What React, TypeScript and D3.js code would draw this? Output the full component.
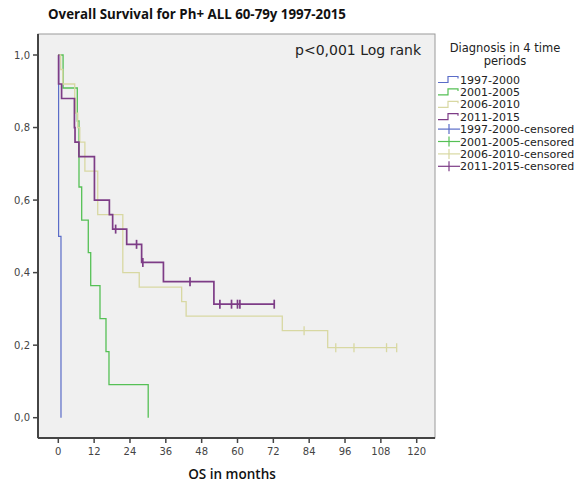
import React from "react";
import * as d3 from "d3";

const groups = ["1997-2000", "2001-2005", "2006-2010", "2011-2015"];
const colors = ["#5a6cc8", "#55c055", "#d8d8a2", "#7d3c86"];
const widths = [1.2, 1.3, 1.3, 1.7];

// step curves: [month, survival]
const blueSteps: [number, number][] = [[0, 1], [0.1, 0.5], [0.9, 0]];
const greenSteps: [number, number][] = [
  [0, 1], [1.6, 0.909], [6.36, 0.818], [6.93, 0.636], [7.83, 0.545],
  [10.04, 0.455], [10.85, 0.364], [13.96, 0.273], [15.97, 0.182],
  [16.97, 0.091], [30.1, 0],
];
const beigeSteps: [number, number][] = [
  [0, 1], [0.8, 0.96], [1.5, 0.92], [5.5, 0.88], [5.8, 0.84], [6.5, 0.8],
  [7.2, 0.76], [8.9, 0.68], [13.2, 0.56], [21.6, 0.4], [27.1, 0.36],
  [41.3, 0.32], [42.8, 0.28], [75, 0.24], [90.2, 0.193], [113.3, 0.193],
];
const purpleSteps: [number, number][] = [
  [0, 1], [0.1, 0.92], [1.1, 0.88], [5.4, 0.8], [5.6, 0.76], [6.9, 0.72],
  [12.1, 0.6], [17.1, 0.56], [18.2, 0.52], [22.9, 0.478], [27.9, 0.428],
  [35.2, 0.375], [52.1, 0.313], [72.3, 0.313],
];
const beigeCensored = [82.3, 92.9, 99, 109.9, 113.3];
const purpleCensored = [19.2, 26.2, 28.3, 44.1, 54.1, 58.0, 60.0, 60.8, 72.3];

const xTicks = [0, 12, 24, 36, 48, 60, 72, 84, 96, 108, 120];
const yTicks = [0, 0.2, 0.4, 0.6, 0.8, 1.0];

const allSteps = [blueSteps, greenSteps, beigeSteps, purpleSteps];
const allCensored: number[][] = [[], [], beigeCensored, purpleCensored];

function survAt(steps: [number, number][], t: number) {
  let s = 1;
  for (const [tt, v] of steps) if (tt <= t) s = v;
  return s;
}

export default function App() {
  const x = d3.scaleLinear().domain([0, 120]).range([58.3, 416.7]);
  const y = d3.scaleLinear().domain([0, 1]).range([417.7, 55]);
  const left = 38, right = 435, top = 34, bottom = 438;
  const line = d3
    .line<[number, number]>()
    .x((d) => x(d[0]))
    .y((d) => y(d[1]))
    .curve(d3.curveStepAfter);
  const font = "'DejaVu Sans', sans-serif";
  const legX = 438;
  const legY0 = 79.5;
  const legDy = 12.4;
  return (
    <svg width={579} height={483} style={{ position: "absolute", left: 0, top: 0, background: "#fff" }}>
      <text x={48} y={19} fontFamily="'Open Sans', sans-serif" fontWeight={700} fontSize={13.3} fill="#111">
        Overall Survival for Ph+ ALL 60-79y 1997-2015
      </text>
      <rect x={left} y={top} width={right - left} height={bottom - top} fill="#f0f0f0" stroke="#9a9a9a" strokeWidth={1} />
      <line x1={left} x2={left} y1={top} y2={bottom} stroke="#444" strokeWidth={2} />
      <line x1={left} x2={right} y1={bottom} y2={bottom} stroke="#444" strokeWidth={2} />
      {yTicks.map((v) => (
        <g key={v}>
          <line x1={33} x2={left} y1={y(v)} y2={y(v)} stroke="#444" strokeWidth={1.5} />
          <text x={30} y={y(v) + 3.5} textAnchor="end" fontFamily={font} fontSize={10} fill="#444">
            {v.toFixed(1).replace(".", ",")}
          </text>
        </g>
      ))}
      {xTicks.map((v) => (
        <g key={v}>
          <line x1={x(v)} x2={x(v)} y1={bottom} y2={bottom + 5} stroke="#444" strokeWidth={1.5} />
          <text x={x(v)} y={455} textAnchor="middle" fontFamily={font} fontSize={10} fill="#444">
            {v}
          </text>
        </g>
      ))}
      <text x={232} y={479} textAnchor="middle" fontFamily="'Open Sans', sans-serif" fontWeight={600} fontSize={13.5} fill="#111">
        OS in months
      </text>
      <text x={421} y={55} textAnchor="end" fontFamily={font} fontSize={14} fill="#222">
        p&lt;0,001 Log rank
      </text>
      {allSteps.map((s, i) => (
        <path key={i} d={line(s) || ""} fill="none" stroke={colors[i]} strokeWidth={widths[i]} />
      ))}
      {allCensored.map((cs, i) =>
        cs.map((t, j) => (
          <line
            key={i + "-" + j}
            x1={x(t)}
            x2={x(t)}
            y1={y(survAt(allSteps[i], t)) - 4.5}
            y2={y(survAt(allSteps[i], t)) + 4.5}
            stroke={colors[i]}
            strokeWidth={widths[i]}
          />
        ))
      )}
      <text x={505} y={52} textAnchor="middle" fontFamily={font} fontSize={11.5} fill="#222">
        Diagnosis in 4 time
      </text>
      <text x={505} y={65} textAnchor="middle" fontFamily={font} fontSize={11.5} fill="#222">
        periods
      </text>
      {groups.map((g, i) => {
        const yy = legY0 + i * legDy;
        return (
          <g key={g}>
            <path
              d={`M${legX},${yy + 3} H${legX + 10} V${yy - 3} H${legX + 20} V${yy - 1}`}
              fill="none"
              stroke={colors[i]}
              strokeWidth={1.2}
            />
            <text x={legX + 22} y={yy + 4} fontFamily={font} fontSize={11} fill="#222">
              {g}
            </text>
          </g>
        );
      })}
      {groups.map((g, i) => {
        const yy = legY0 + (i + 4) * legDy;
        return (
          <g key={g + "c"}>
            <line x1={legX} x2={legX + 22} y1={yy} y2={yy} stroke={colors[i]} strokeWidth={1.2} />
            <line x1={legX + 11} x2={legX + 11} y1={yy - 5} y2={yy + 5} stroke={colors[i]} strokeWidth={1.2} />
            <text x={legX + 22} y={yy + 4} fontFamily={font} fontSize={11} fill="#222">
              {g}-censored
            </text>
          </g>
        );
      })}
    </svg>
  );
}
